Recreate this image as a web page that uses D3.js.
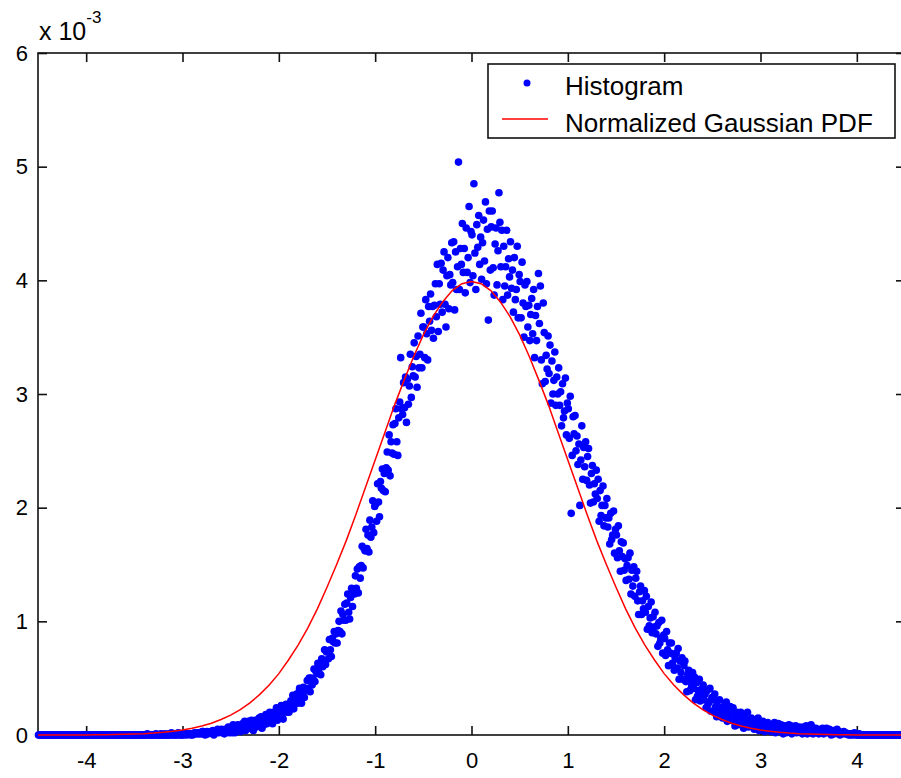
<!DOCTYPE html>
<html>
<head>
<meta charset="utf-8">
<script src="https://cdn.jsdelivr.net/npm/d3@7"></script>
<style>
  body { margin: 0; background: #fff; }
  svg { display: block; }
  .tick text { font-family: Arial, "Liberation Sans", sans-serif; font-size: 22px; fill: #000; }
  .label { font-family: Arial, "Liberation Sans", sans-serif; fill: #000; }
</style>
</head>
<body>
<svg id="fig" width="901" height="778"></svg>
<script>
// histogram bins: first centre and width (regular bins)
const binStart = -4.495;
const binWidth = 0.01;

// histogram heights in units of 1e-3, one line per 0.1 on the x axis (-4.5 .. 4.5)
const histValues = [
  0,0,0,0,0,0,0,0,0,0,
  0,0,0,0,0,0,0,0,0,0,
  0,0,0,0,0,0,0,0,0,0,
  0,0,0,0,0,0,0,0,0,0,
  0,0,0,0,0,0,0,0,0,0,
  0,0,0,0,0,0,0,0,0,0,
  0,0,0,0,0,0,0,0,0,0,
  0,0,0,0,0,0,0,0,0,0,
  0,0,0,0,0,0,0,0,0,0,
  0,0,0,0,0,0,0,0,0,0,
  0,0,0,0,0,0,0,0,0,0,
  0,0,0,0.01,0,0,0,0,0,0,
  0,0,0.01,0,0,0,0,0.01,0,0,
  0,0.01,0,0,0,0.01,0,0,0.02,0,
  0.01,0,0,0.01,0,0.02,0,0.01,0,0,
  0.01,0,0.01,0.01,0,0.01,0.01,0.01,0,0.01,
  0,0.01,0.02,0.01,0.02,0.01,0.02,0.01,0.02,0.01,
  0.03,0.03,0.01,0,0.02,0.03,0.01,0.02,0.02,0.03,
  0.02,0.04,0,0.03,0.02,0.03,0.05,0.02,0.04,0.03,
  0.05,0.02,0.04,0.01,0.05,0.03,0.04,0.07,0.02,0.06,
  0.06,0.02,0.09,0.05,0.02,0.08,0.06,0.09,0.05,0.07,
  0.03,0.07,0.1,0.06,0.12,0.04,0.1,0.07,0.12,0.06,
  0.11,0.13,0.07,0.04,0.11,0.13,0.07,0.11,0.1,0.15,
  0.1,0.16,0.06,0.15,0.09,0.13,0.18,0.1,0.15,0.13,
  0.2,0.13,0.16,0.1,0.2,0.13,0.16,0.24,0.13,0.21,
  0.2,0.15,0.26,0.19,0.14,0.25,0.22,0.27,0.2,0.25,
  0.2,0.26,0.3,0.25,0.35,0.23,0.32,0.29,0.36,0.28,
  0.37,0.41,0.31,0.28,0.38,0.42,0.33,0.4,0.39,0.48,
  0.41,0.5,0.38,0.5,0.44,0.49,0.58,0.47,0.56,0.54,
  0.63,0.55,0.61,0.53,0.67,0.6,0.64,0.75,0.62,0.73,
  0.74,0.67,0.84,0.75,0.69,0.85,0.82,0.91,0.81,0.89,
  0.81,0.92,1.0,0.91,1.09,0.89,1.06,1.01,1.15,1.01,
  1.16,1.24,1.08,1.02,1.21,1.29,1.13,1.26,1.24,1.4,
  1.29,1.46,1.25,1.48,1.38,1.49,1.66,1.47,1.64,1.62,
  1.81,1.64,1.76,1.61,1.89,1.74,1.83,2.06,1.78,2.01,
  2.03,1.88,2.21,2.05,1.92,2.23,2.17,2.34,2.15,2.3,
  2.14,2.35,2.49,2.33,2.64,2.28,2.58,2.48,2.73,2.47,
  2.74,2.87,2.58,2.46,2.79,2.93,3.32,2.87,2.82,3.1,
  2.88,3.15,2.75,3.13,2.91,3.07,3.35,2.97,3.24,3.16,
  3.45,3.15,3.33,3.06,3.51,3.23,3.35,3.71,3.23,3.59,
  3.59,3.32,3.83,3.53,3.3,3.77,3.64,3.88,3.56,3.77,
  3.49,3.78,3.97,3.68,4.14,3.55,3.97,3.79,4.15,3.72,
  4.09,4.25,3.79,3.59,4.04,4.2,3.75,4.05,3.96,4.33,
  3.98,4.34,3.74,4.25,3.92,4.12,5.04,3.92,4.28,4.14,
  4.5,4.07,4.28,3.89,4.46,4.07,4.2,4.65,3.98,4.43,
  4.4,4.04,4.85,4.24,3.92,4.49,4.29,4.57,4.14,4.38,
  4.01,4.33,4.53,4.17,4.69,3.97,4.45,3.65,4.61,4.09,
  4.47,4.61,4.11,3.87,4.32,4.46,3.96,4.26,4.77,4.51,
  4.12,4.44,3.83,4.3,3.95,4.12,4.44,3.87,4.19,4.03,
  4.34,3.93,4.09,3.72,4.2,3.83,3.92,4.3,3.67,4.05,
  3.99,3.67,4.16,3.8,3.5,3.96,3.77,3.99,3.59,3.78,
  3.47,3.7,3.84,3.53,3.92,3.32,3.69,3.47,3.77,4.06,
  3.62,3.95,3.3,3.09,3.8,3.54,3.11,3.34,3.22,3.51,
  3.18,3.43,2.92,3.29,3.0,3.12,3.37,2.9,3.15,3.0,
  3.23,2.9,3.02,2.72,3.09,2.79,2.85,3.14,2.64,2.92,
  2.87,2.61,2.98,1.95,2.46,2.8,2.65,2.81,2.5,2.63,
  2.38,2.56,2.02,2.42,2.72,2.25,2.53,2.36,2.58,2.24,
  2.45,2.52,2.2,2.04,2.3,2.37,2.05,2.21,2.12,2.33,
  2.08,2.25,1.88,2.15,1.93,2.02,2.19,1.84,2.02,1.91,
  2.08,1.83,1.91,1.68,1.95,1.72,1.76,1.97,1.6,1.81,
  1.76,1.56,1.84,1.62,1.44,1.7,1.57,1.69,1.45,1.55,
  1.36,1.49,1.56,1.37,1.6,1.24,1.45,1.31,1.48,1.22,
  1.38,1.44,1.18,1.06,1.26,1.31,1.06,1.18,1.11,1.27,
  1.08,1.22,0.93,1.13,0.96,1.03,1.17,0.9,1.04,0.95,
  1.08,0.89,0.96,0.78,0.99,0.81,0.85,1.01,0.72,0.88,
  0.85,0.7,0.91,0.75,0.61,0.81,0.72,0.81,0.63,0.71,
  0.57,0.67,0.72,0.59,0.76,0.49,0.65,0.55,0.68,0.49,
  0.61,0.65,0.47,0.38,0.53,0.57,0.39,0.48,0.43,0.55,
  0.41,0.51,0.31,0.46,0.34,0.39,0.49,0.3,0.4,0.34,
  0.44,0.31,0.36,0.24,0.39,0.27,0.29,0.41,0.21,0.33,
  0.31,0.21,0.36,0.25,0.16,0.3,0.24,0.31,0.19,0.24,
  0.15,0.22,0.26,0.18,0.29,0.12,0.22,0.16,0.25,0.13,
  0.21,0.24,0.13,0.08,0.17,0.2,0.09,0.15,0.12,0.2,
  0.11,0.17,0.06,0.15,0.08,0.11,0.2,0.07,0.13,0.09,
  0.15,0.08,0.11,0.05,0.13,0.07,0.08,0.15,0.04,0.11,
  0.09,0.04,0.12,0.07,0.03,0.1,0.07,0.11,0.05,0.08,
  0.03,0.07,0.09,0.05,0.11,0.02,0.08,0.05,0.1,0.04,
  0.08,0.09,0.03,0.01,0.06,0.08,0.02,0.06,0.04,0.09,
  0.04,0.08,0.01,0.06,0.03,0.05,0.08,0.02,0.06,0.04,
  0.07,0.03,0.05,0.01,0.07,0.03,0.04,0.08,0.01,0.06,
  0.05,0.02,0.09,0.03,0.01,0.06,0.04,0.06,0.02,0.04,
  0.01,0.04,0.05,0.02,0.06,0.01,0.04,0.03,0.06,0.02,
  0.04,0.05,0.02,0,0.03,0.04,0.01,0.03,0.02,0.05,
  0.01,0.03,0,0.02,0.01,0.02,0.03,0.01,0.02,0.01,
  0.01,0,0.01,0,0.01,0,0.01,0.02,0,0.01,
  0,0,0.01,0,0,0,0,0,0,0,
  0,0,0,0,0,0,0,0,0,0,
  0,0,0,0,0,0,0,0,0,0,
  0,0,0,0,0,0,0,0,0,0,
  0,0,0,0,0,0,0,0,0,0
];

// red curve read at x = -4.5 .. 4.5, step 0.1 (units of 1e-3)
const pdfX = d3.range(-45, 46).map(k => k / 10);
const pdfValues = [
  0,0,0,0,0,0.001,0.002,0.003,0.004,0.006,
  0.009,0.012,0.017,0.024,0.033,0.044,0.06,0.079,0.104,0.136,
  0.175,0.224,0.283,0.355,0.44,0.54,0.66,0.79,0.94,1.11,
  1.3,1.5,1.71,1.94,2.18,2.42,2.66,2.9,3.12,3.33,
  3.52,3.68,3.81,3.91,3.97,3.99,3.97,3.91,3.81,3.68,
  3.52,3.33,3.12,2.9,2.66,2.42,2.18,1.94,1.71,1.5,
  1.3,1.11,0.94,0.79,0.66,0.54,0.44,0.355,0.283,0.224,
  0.175,0.136,0.104,0.079,0.06,0.044,0.033,0.024,0.017,0.012,
  0.009,0.006,0.004,0.003,0.002,0.001,0,0,0,0,0
];

const xTicks = [-4, -3, -2, -1, 0, 1, 2, 3, 4];
const yTicks = [0, 1, 2, 3, 4, 5, 6];
const legendLabels = ["Histogram", "Normalized Gaussian PDF"];

const plotLeft = 38, plotRight = 905, plotTop = 53, plotBottom = 735;

const histData = histValues.map((v, i) => ({ x: binStart + i * binWidth, y: v }));
const pdfData = pdfX.map((x, i) => ({ x: x, y: pdfValues[i] }));

const xScale = d3.scaleLinear().domain([-4.5, 4.5]).range([plotLeft, plotRight]);
const yScale = d3.scaleLinear().domain([0, 6]).range([plotBottom, plotTop]);

// plain hyphen for negatives, like the original
const fmt = d => `${d}`;

const Fig = d3.select("#fig");

// axes box and ticks (ticks point inwards, like matlab)
Fig.append("g")
    .attr("class", "axis")
    .attr("transform", `translate(0, ${plotBottom})`)
    .call(d3.axisBottom(xScale).tickValues(xTicks).tickFormat(fmt).tickSizeInner(-9).tickSizeOuter(0).tickPadding(17))
    .call(g => g.select(".domain").remove());

Fig.append("g")
    .attr("class", "axis")
    .attr("transform", `translate(0, ${plotTop})`)
    .call(d3.axisTop(xScale).tickValues(xTicks).tickSizeInner(-9).tickSizeOuter(0).tickFormat(""))
    .call(g => g.select(".domain").remove());

Fig.append("g")
    .attr("class", "axis")
    .attr("transform", `translate(${plotLeft}, 0)`)
    .call(d3.axisLeft(yScale).tickValues(yTicks).tickFormat(fmt).tickSizeInner(-9).tickSizeOuter(0).tickPadding(10))
    .call(g => g.select(".domain").remove());

Fig.append("g")
    .attr("class", "axis")
    .attr("transform", `translate(${plotRight}, 0)`)
    .call(d3.axisRight(yScale).tickValues(yTicks).tickSizeInner(-9).tickSizeOuter(0).tickFormat(""))
    .call(g => g.select(".domain").remove());

Fig.selectAll(".axis line").attr("stroke", "#111").attr("stroke-width", 1.6);

Fig.append("rect")
    .attr("x", plotLeft)
    .attr("y", plotTop)
    .attr("width", plotRight - plotLeft)
    .attr("height", plotBottom - plotTop)
    .attr("fill", "none")
    .attr("stroke", "#111")
    .attr("stroke-width", 1.6);

// exponent label
const expo = Fig.append("text")
    .attr("class", "label")
    .attr("x", 39)
    .attr("y", 40)
    .style("font-size", "25px")
    .text("x 10");
expo.append("tspan")
    .attr("dy", -17)
    .style("font-size", "17px")
    .text("-3");

// histogram points
Fig.append("g")
    .selectAll("circle")
    .data(histData)
    .join("circle")
    .attr("cx", d => xScale(d.x))
    .attr("cy", d => yScale(d.y))
    .attr("r", 3.8)
    .attr("fill", "#0000ff");

// gaussian line
const line = d3.line()
    .x(d => xScale(d.x))
    .y(d => yScale(d.y));

Fig.append("path")
    .datum(pdfData)
    .attr("d", line)
    .attr("fill", "none")
    .attr("stroke", "#ff0000")
    .attr("stroke-width", 1.5);

// legend
const legendBox = Fig.append("g").attr("transform", "translate(488, 64)");

legendBox.append("rect")
    .attr("width", 407)
    .attr("height", 74)
    .attr("fill", "#fff")
    .attr("stroke", "#111")
    .attr("stroke-width", 1.6);

legendBox.append("circle")
    .attr("cx", 39)
    .attr("cy", 19)
    .attr("r", 3.5)
    .attr("fill", "#0000ff");

legendBox.append("line")
    .attr("x1", 14)
    .attr("x2", 60)
    .attr("y1", 55)
    .attr("y2", 55)
    .attr("stroke", "#ff0000")
    .attr("stroke-width", 1.5);

legendBox.selectAll(".legend")
    .data(legendLabels)
    .join("text")
    .attr("class", "label legend")
    .attr("x", 77)
    .attr("y", (d, i) => 31 + i * 37)
    .style("font-size", "26px")
    .text(d => d);
</script>
</body>
</html>
